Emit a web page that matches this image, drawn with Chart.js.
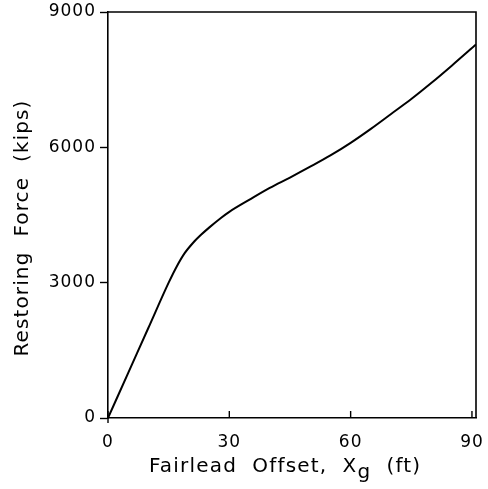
<!DOCTYPE html>
<html>
<head>
<meta charset="utf-8">
<script src="https://cdn.jsdelivr.net/npm/chart.js@4.4.1/dist/chart.umd.min.js"></script>
<style>
  html, body { margin: 0; padding: 0; background: #fff; }
  #wrap { width: 488px; height: 489px; }
</style>
</head>
<body>
<div id="wrap"><canvas id="forceChart"></canvas></div>
<script>
// Fairlead offset (ft) and restoring force (kips)
const offsetFt = [0, 5, 10, 15, 17, 19, 21, 23, 25, 28, 30, 35, 40, 45, 50, 55, 60, 65, 70, 75, 80, 85, 91];
const forceKips = [0, 1000, 2000, 3000, 3360, 3660, 3880, 4060, 4220, 4440, 4570, 4840, 5100, 5330, 5570, 5820, 6100, 6410, 6740, 7070, 7430, 7810, 8280];
const xTicks = [0, 30, 60, 90];
const yTicks = [0, 3000, 6000, 9000];

const FONT = '"DejaVu Sans", sans-serif';

// draws frame box, inward x ticks and the two axis titles
const framePlugin = {
    id: 'frame',
    beforeDraw(chart) {
        chart.ctx.letterSpacing = '1px';
    },
    afterDraw(chart) {
        const ctx = chart.ctx;
        const a = chart.chartArea;
        const xs = chart.scales.x;
        ctx.save();
        ctx.letterSpacing = '0px';
        ctx.strokeStyle = '#000';
        ctx.lineWidth = 1.6;
        ctx.beginPath();
        ctx.moveTo(a.left, a.top);
        ctx.lineTo(a.right, a.top);
        ctx.lineTo(a.right, a.bottom);
        ctx.stroke();

        // x ticks point into the plot
        ctx.lineWidth = 1.4;
        xTicks.forEach(v => {
            const px = xs.getPixelForValue(v);
            ctx.beginPath();
            ctx.moveTo(px, a.bottom);
            ctx.lineTo(px, a.bottom - 7);
            ctx.stroke();
        });
        ctx.beginPath();
        ctx.moveTo(a.left, a.bottom);
        ctx.lineTo(a.left, a.bottom + 5);
        ctx.stroke();

        ctx.fillStyle = '#000';
        ctx.font = '20px ' + FONT;
        ctx.textBaseline = 'alphabetic';

        // x title with subscript g
        const parts = [
            { t: 'Fairlead  Offset,  X', sub: false },
            { t: 'g', sub: true },
            { t: '  (ft)', sub: false }
        ];
        const sp = 1.2;
        let w = 0;
        parts.forEach(p => { w += ctx.measureText(p.t).width + p.t.length * sp; });
        let x = 285 - w / 2;
        parts.forEach(p => {
            ctx.letterSpacing = sp + 'px';
            ctx.textAlign = 'left';
            ctx.fillText(p.t, x, p.sub ? 478 : 472);
            x += ctx.measureText(p.t).width;
        });

        // y title, rotated
        const yt = 'Restoring  Force  (kips)';
        ctx.letterSpacing = '0px';
        const base = ctx.measureText(yt).width;
        const ysp = (257 - base) / yt.length;
        ctx.letterSpacing = ysp + 'px';
        ctx.translate(28, 228);
        ctx.rotate(-Math.PI / 2);
        ctx.textAlign = 'center';
        ctx.fillText(yt, 0, 0);
        ctx.restore();
    }
};

const ctx = document.getElementById('forceChart').getContext('2d');
const forceChart = new Chart(ctx, {
    type: 'scatter',
    data: {
        datasets: [{
            data: offsetFt.map((x, i) => ({ x: x, y: forceKips[i] })),
            showLine: true,
            borderColor: '#000',
            borderWidth: 2,
            pointRadius: 0,
            cubicInterpolationMode: 'monotone'
        }]
    },
    options: {
        responsive: true,
        maintainAspectRatio: false,
        animation: false,
        layout: { padding: { top: 12, right: 12, left: 0, bottom: 0 } },
        plugins: {
            legend: { display: false },
            tooltip: { enabled: false }
        },
        scales: {
            x: {
                type: 'linear',
                min: 0,
                max: 91,
                afterBuildTicks: s => { s.ticks = xTicks.map(v => ({ value: v })); },
                afterFit: s => { s.height = 71; s.paddingLeft = 0; s.paddingRight = 0; },
                grid: { display: true, drawOnChartArea: false, drawTicks: false, color: '#000' },
                border: { display: true, color: '#000', width: 1.6 },
                ticks: {
                    color: '#000',
                    padding: 14,
                    maxRotation: 0,
                    font: { family: FONT, size: 17 }
                },
                title: { display: false }
            },
            y: {
                min: 0,
                max: 9000,
                afterBuildTicks: s => { s.ticks = yTicks.map(v => ({ value: v })); },
                afterFit: s => { s.width = 108; s.paddingTop = 0; s.paddingBottom = 0; },
                grid: { display: true, drawOnChartArea: false, tickLength: 8, color: '#000', tickWidth: 1.4 },
                border: { display: true, color: '#000', width: 1.6 },
                ticks: {
                    color: '#000',
                    padding: 4,
                    callback: v => String(v),
                    font: { family: FONT, size: 17 }
                },
                title: { display: false }
            }
        }
    },
    plugins: [framePlugin]
});
</script>
</body>
</html>
